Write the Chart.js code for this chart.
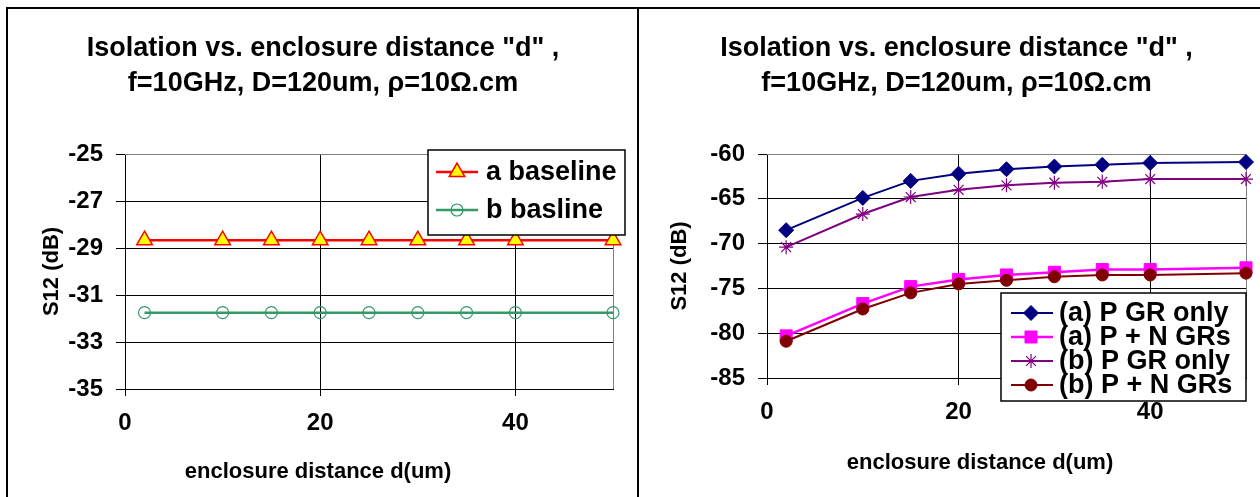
<!DOCTYPE html>
<html>
<head>
<meta charset="utf-8">
<script src="https://cdn.jsdelivr.net/npm/chart.js@4.4.1/dist/chart.umd.min.js"></script>
<style>
  body { margin: 0; background: #fff; }
  #wrap { position: relative; width: 1260px; height: 497px; overflow: hidden; background: #fff; }
  canvas { position: absolute; top: 0; }
  .line { position: absolute; background: #000; }
</style>
</head>
<body>
<div id="wrap">
  <canvas id="leftChart" width="638" height="497" style="left:0"></canvas>
  <canvas id="rightChart" width="620" height="497" style="left:640px"></canvas>
  <div class="line" style="left:6px;top:7px;width:1254px;height:2px"></div>
  <div class="line" style="left:6px;top:7px;width:2px;height:490px"></div>
  <div class="line" style="left:637px;top:7px;width:2px;height:490px"></div>
</div>
<script>
// data
const distance = [2, 10, 15, 20, 25, 30, 35, 40, 50];
const aBaseline = [-28.67, -28.67, -28.67, -28.67, -28.67, -28.67, -28.67, -28.67, -28.67];
const bBasline = [-31.75, -31.75, -31.75, -31.75, -31.75, -31.75, -31.75, -31.75, -31.75];

const aPGrOnly = [-68.5, -64.9, -63.0, -62.2, -61.7, -61.4, -61.2, -61.0, -60.9];
const aPNGrs = [-80.3, -76.7, -74.8, -74.0, -73.5, -73.2, -72.9, -72.9, -72.7];
const bPGrOnly = [-70.4, -66.7, -64.8, -64.0, -63.5, -63.2, -63.1, -62.8, -62.8];
const bPNGrs = [-80.9, -77.3, -75.5, -74.5, -74.1, -73.7, -73.5, -73.5, -73.3];

const xTicks = [0, 20, 40];
const leftYTicks = [-35, -33, -31, -29, -27, -25];
const rightYTicks = [-85, -80, -75, -70, -65, -60];

const titleLines = ['Isolation vs. enclosure distance "d" ,', 'f=10GHz, D=120um, ρ=10Ω.cm'];
const yTitle = 'S12 (dB)';
const xTitle = 'enclosure distance d(um)';

const FONT = "'Liberation Sans', Arial, sans-serif";
Chart.defaults.font.family = FONT;
Chart.defaults.font.weight = 'bold';
Chart.defaults.color = '#000';

const toPoints = ys => distance.map((x, i) => ({ x: x, y: ys[i] }));

// gray frame on top/right of the plot area, like excel
const plotFrame = {
  id: 'plotFrame',
  beforeDatasetsDraw(chart) {
    const { ctx, chartArea: a } = chart;
    ctx.save();
    ctx.strokeStyle = '#808080';
    ctx.lineWidth = 1;
    ctx.beginPath();
    ctx.moveTo(a.left, Math.round(a.top) + 0.5);
    ctx.lineTo(Math.round(a.right) + 0.5, Math.round(a.top) + 0.5);
    ctx.lineTo(Math.round(a.right) + 0.5, a.bottom);
    ctx.stroke();
    ctx.restore();
  }
};

// boxed legend with line + marker, drawn over the plot
const legendBox = {
  id: 'legendBox',
  afterDraw(chart, args, opts) {
    const { ctx } = chart;
    const b = opts.box;
    ctx.save();
    ctx.fillStyle = '#fff';
    ctx.fillRect(b.x, b.y, b.w, b.h);
    ctx.strokeStyle = '#000';
    ctx.lineWidth = 1.5;
    ctx.strokeRect(b.x, b.y, b.w, b.h);
    ctx.font = opts.font;
    ctx.textBaseline = 'middle';
    chart.data.datasets.forEach((ds, i) => {
      const y = b.y + opts.rows[i];
      ctx.strokeStyle = ds.borderColor;
      ctx.lineWidth = ds.borderWidth;
      ctx.beginPath();
      ctx.moveTo(b.x + opts.lineFrom, y);
      ctx.lineTo(b.x + opts.lineTo, y);
      ctx.stroke();
      ctx.fillStyle = ds.pointBackgroundColor;
      ctx.strokeStyle = ds.pointBorderColor;
      ctx.lineWidth = ds.pointBorderWidth;
      Chart.helpers.drawPoint(ctx, {
        pointStyle: ds.pointStyle,
        radius: ds.pointRadius,
        rotation: 0,
        borderWidth: ds.pointBorderWidth
      }, b.x + opts.markX, y);
      ctx.fillStyle = '#000';
      ctx.fillText(ds.label, b.x + opts.textX, y + 1);
    });
    ctx.restore();
  }
};

// x axis title (excel puts it a bit left of the plot centre)
const xAxisTitle = {
  id: 'xAxisTitle',
  afterDraw(chart, args, opts) {
    const { ctx } = chart;
    ctx.save();
    ctx.font = opts.font;
    ctx.fillStyle = '#000';
    ctx.textAlign = 'center';
    ctx.textBaseline = 'middle';
    ctx.fillText(opts.text, opts.x, opts.y);
    ctx.restore();
  }
};

function makeChart(id, cfg) {
  const a = cfg.area;
  return new Chart(document.getElementById(id), {
    type: 'line',
    data: { datasets: cfg.datasets },
    options: {
      responsive: false,
      animation: false,
      layout: { padding: { left: cfg.padLeft, right: cfg.W - a.right, top: 0, bottom: cfg.padBottom } },
      plugins: {
        legend: { display: false },
        tooltip: { enabled: false },
        title: {
          display: true,
          text: titleLines,
          color: '#000',
          font: { size: 27, weight: 'bold', lineHeight: '35px' },
          padding: { top: 31, bottom: a.top - 31 - 70 }
        },
        legendBox: cfg.legend,
        xAxisTitle: { text: xTitle, font: 'bold 22px ' + FONT, x: cfg.xTitlePos[0], y: cfg.xTitlePos[1] }
      },
      scales: {
        x: {
          type: 'linear',
          min: 0,
          max: 50,
          afterBuildTicks: s => { s.ticks = xTicks.map(v => ({ value: v })); },
          afterFit: s => { s.height = cfg.H - cfg.padBottom - a.bottom; },
          ticks: { font: { size: 24, weight: 'bold' }, color: '#000', padding: 13, maxRotation: 0 },
          grid: { color: '#000', tickColor: '#000', tickLength: 7 },
          border: { color: '#000', width: 1 }
        },
        y: {
          min: cfg.yMin,
          max: cfg.yMax,
          afterBuildTicks: s => { s.ticks = cfg.yTicks.map(v => ({ value: v })); },
          afterFit: s => { s.width = a.left - cfg.padLeft; },
          ticks: { font: { size: 24, weight: 'bold' }, color: '#000', padding: 13 },
          grid: {
            color: c => (c.tick && c.tick.value === cfg.yMax ? '#808080' : '#000'),
            tickColor: '#000',
            tickLength: 9
          },
          border: { color: '#000', width: 1 },
          title: {
            display: true, text: yTitle, color: '#000',
            font: { size: 22, weight: 'bold' },
            padding: { top: cfg.yTitlePad, bottom: 0 }
          }
        }
      }
    },
    plugins: [plotFrame, legendBox, xAxisTitle]
  });
}

makeChart('leftChart', {
  W: 638, H: 497,
  area: { left: 125, right: 613, top: 154, bottom: 389 },
  padLeft: 33, padBottom: 8, yTitlePad: 6,
  yMin: -35, yMax: -25, yTicks: leftYTicks,
  xTitlePos: [318, 472],
  datasets: [
    {
      label: 'a baseline', data: toPoints(aBaseline),
      borderColor: '#FF0000', borderWidth: 2.5,
      pointStyle: 'triangle', pointRadius: 9,
      pointBackgroundColor: '#FFFF00', pointBorderColor: '#FF0000', pointBorderWidth: 1.5,
      clip: false
    },
    {
      label: 'b basline', data: toPoints(bBasline),
      borderColor: '#339966', borderWidth: 2.5,
      pointStyle: 'circle', pointRadius: 6,
      pointBackgroundColor: 'rgba(0,0,0,0)', pointBorderColor: '#339966', pointBorderWidth: 1.2,
      clip: false
    }
  ],
  legend: {
    box: { x: 428, y: 150, w: 197, h: 85 },
    rows: [22, 60],
    lineFrom: 8, lineTo: 50, markX: 29, textX: 58,
    font: 'bold 27px ' + FONT
  }
});

makeChart('rightChart', {
  W: 620, H: 497,
  area: { left: 127, right: 606, top: 154, bottom: 378 },
  padLeft: 27, padBottom: 12, yTitlePad: 0,
  yMin: -85, yMax: -60, yTicks: rightYTicks,
  xTitlePos: [340, 463],
  datasets: [
    {
      label: '(a) P GR only', data: toPoints(aPGrOnly),
      borderColor: '#000080', borderWidth: 2,
      pointStyle: 'rectRot', pointRadius: 7.5,
      pointBackgroundColor: '#000080', pointBorderColor: '#000080', pointBorderWidth: 1,
      order: 3, clip: false
    },
    {
      label: '(a) P + N GRs', data: toPoints(aPNGrs),
      borderColor: '#FF00FF', borderWidth: 2.5,
      pointStyle: 'rect', pointRadius: 8.5,
      pointBackgroundColor: '#FF00FF', pointBorderColor: '#FF00FF', pointBorderWidth: 1,
      order: 2, clip: false
    },
    {
      label: '(b) P GR only', data: toPoints(bPGrOnly),
      borderColor: '#800080', borderWidth: 2,
      pointStyle: 'star', pointRadius: 7,
      pointBackgroundColor: '#800080', pointBorderColor: '#800080', pointBorderWidth: 1.2,
      order: 1, clip: false
    },
    {
      label: '(b) P + N GRs', data: toPoints(bPNGrs),
      borderColor: '#800000', borderWidth: 2,
      pointStyle: 'circle', pointRadius: 6,
      pointBackgroundColor: '#800000', pointBorderColor: '#800000', pointBorderWidth: 1,
      order: 0, clip: false
    }
  ],
  legend: {
    box: { x: 361, y: 293, w: 245, h: 108 },
    rows: [20, 44, 68, 92],
    lineFrom: 10, lineTo: 52, markX: 30, textX: 58,
    font: 'bold 27px ' + FONT
  }
});
</script>
</body>
</html>
